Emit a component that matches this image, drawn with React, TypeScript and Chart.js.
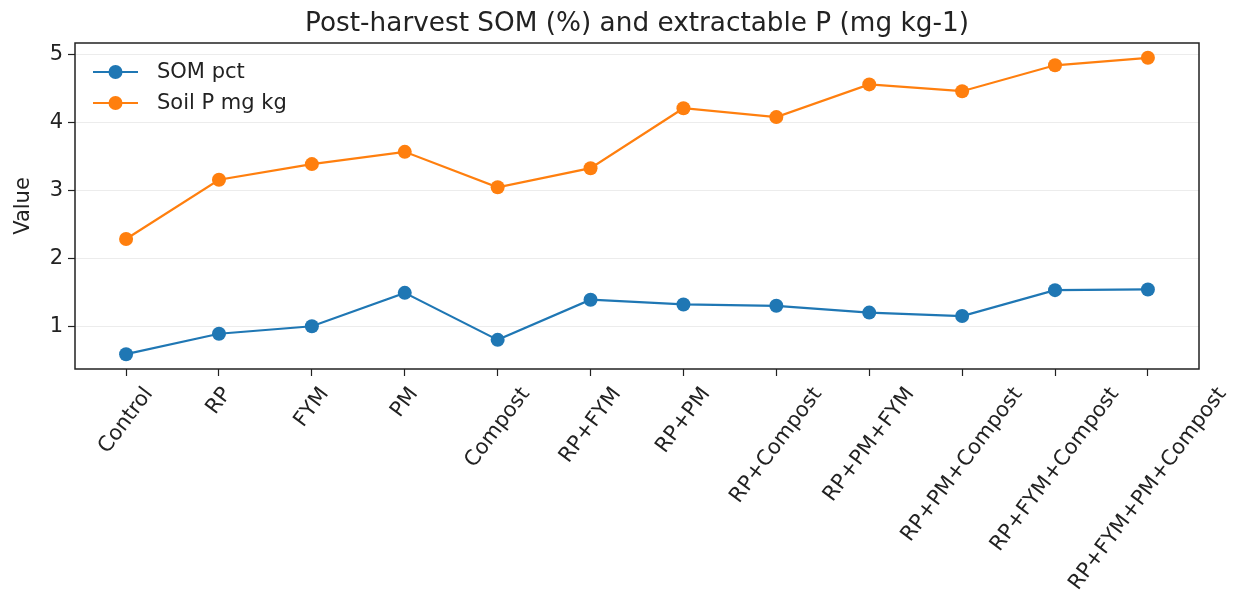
import React, { useEffect, useRef } from "react";
import { Chart, registerables } from "chart.js";

Chart.register(...registerables);

const categories = [
  "Control",
  "RP",
  "FYM",
  "PM",
  "Compost",
  "RP+FYM",
  "RP+PM",
  "RP+Compost",
  "RP+PM+FYM",
  "RP+PM+Compost",
  "RP+FYM+Compost",
  "RP+FYM+PM+Compost",
];
const somPct = [0.6, 0.9, 1.01, 1.5, 0.81, 1.4, 1.33, 1.31, 1.21, 1.16, 1.54, 1.55];
const soilP = [2.29, 3.16, 3.39, 3.57, 3.05, 3.33, 4.21, 4.08, 4.56, 4.46, 4.84, 4.95];
const seriesLabels = ["SOM pct", "Soil P mg kg"];
const seriesColors = ["#1f77b4", "#ff7f0e"];
const yTicks = [1, 2, 3, 4, 5];
const titleText = "Post-harvest SOM (%) and extractable P (mg kg-1)";
const yAxisTitle = "Value";

const FONT = "'DejaVu Sans', sans-serif";
const TICK_PX = 21;
const TITLE_PX = 26.3;
const ROT_DEG = 53;

export default function App() {
  const ref = useRef<HTMLCanvasElement>(null);

  useEffect(() => {
    const canvas = ref.current;
    if (!canvas) return;
    const all = [...somPct, ...soilP];
    const dMin = Math.min(...all);
    const dMax = Math.max(...all);
    const span = dMax - dMin;
    const yMin = dMin - 0.05 * span;
    const yMax = dMax + 0.05 * span;
    const n = categories.length;
    const xMargin = 0.05 * (n - 1);

    const decor = {
      id: "decor",
      afterDraw(chart: any) {
        const ctx = chart.ctx;
        const a = chart.chartArea;
        const xs = chart.scales.x;
        ctx.save();
        // frame
        ctx.strokeStyle = "#222";
        ctx.lineWidth = 1.5;
        ctx.strokeRect(a.left, a.top, a.right - a.left, a.bottom - a.top);
        // title
        ctx.fillStyle = "#222";
        ctx.font = `${TITLE_PX}px ${FONT}`;
        ctx.textAlign = "center";
        ctx.textBaseline = "alphabetic";
        ctx.fillText(titleText, (a.left + a.right) / 2, a.top - 12);
        // y title
        ctx.save();
        ctx.font = `${TICK_PX}px ${FONT}`;
        ctx.translate(24, (a.top + a.bottom) / 2);
        ctx.rotate(-Math.PI / 2);
        ctx.textAlign = "center";
        ctx.textBaseline = "middle";
        ctx.fillText(yAxisTitle, 0, 0);
        ctx.restore();
        // x labels, matplotlib style (rotated, bbox centered under tick)
        const th = (ROT_DEG * Math.PI) / 180;
        ctx.font = `${TICK_PX}px ${FONT}`;
        const h = TICK_PX * 1.0;
        categories.forEach((c, i) => {
          const x = xs.getPixelForValue(i);
          const L = ctx.measureText(c).width;
          const H = L * Math.sin(th) + h * Math.cos(th);
          const top = a.bottom + 7 + 8;
          ctx.save();
          ctx.translate(x, top + H / 2);
          ctx.rotate(-th);
          ctx.textAlign = "center";
          ctx.textBaseline = "middle";
          ctx.fillText(c, 0, 0);
          ctx.restore();
        });
        // legend
        const lx = a.left + 18;
        const rows = [a.top + 29, a.top + 60];
        ctx.font = `${TICK_PX}px ${FONT}`;
        ctx.textAlign = "left";
        ctx.textBaseline = "middle";
        seriesLabels.forEach((lab, i) => {
          const y = rows[i];
          ctx.strokeStyle = seriesColors[i];
          ctx.lineWidth = 2.2;
          ctx.beginPath();
          ctx.moveTo(lx, y);
          ctx.lineTo(lx + 45, y);
          ctx.stroke();
          ctx.fillStyle = seriesColors[i];
          ctx.beginPath();
          ctx.arc(lx + 22.5, y, 7, 0, Math.PI * 2);
          ctx.fill();
          ctx.fillStyle = "#222";
          ctx.fillText(lab, lx + 64, y + 1);
        });
        ctx.restore();
      },
    };

    const chart = new Chart(canvas, {
      type: "line",
      data: {
        datasets: [somPct, soilP].map((vals, k) => ({
          label: seriesLabels[k],
          data: vals.map((v, i) => ({ x: i, y: v })),
          borderColor: seriesColors[k],
          backgroundColor: seriesColors[k],
          borderWidth: 2.2,
          pointRadius: 7,
          pointBorderWidth: 0,
          pointBackgroundColor: seriesColors[k],
          tension: 0,
          fill: false,
        })),
      },
      options: {
        animation: false,
        responsive: false,
        layout: { padding: { top: 43, right: 36, left: 0, bottom: 0 } },
        plugins: {
          legend: { display: false },
          title: { display: false },
          tooltip: { enabled: false },
        },
        scales: {
          x: {
            type: "linear",
            min: -xMargin,
            max: n - 1 + xMargin,
            afterBuildTicks: (s: any) => {
              s.ticks = categories.map((_, i) => ({ value: i }));
            },
            afterFit: (s: any) => {
              s.height = 227;
            },
            ticks: { display: false },
            border: { display: false },
            grid: {
              display: true,
              drawOnChartArea: false,
              drawTicks: true,
              tickLength: 7,
              tickColor: "#222",
              tickWidth: 1.2,
            },
          },
          y: {
            type: "linear",
            min: yMin,
            max: yMax,
            afterBuildTicks: (s: any) => {
              s.ticks = yTicks.map((v) => ({ value: v }));
            },
            afterFit: (s: any) => {
              s.width = 75;
            },
            border: { display: false },
            ticks: {
              color: "#222",
              font: { family: FONT, size: TICK_PX },
              padding: 5,
              callback: (v: any) => String(v),
            },
            grid: {
              color: "#ececec",
              lineWidth: 1,
              drawTicks: true,
              tickLength: 7,
              tickColor: "#222",
              tickWidth: 1.2,
            },
          },
        },
      },
      plugins: [decor],
    } as any);
    return () => chart.destroy();
  }, []);

  return (
    <div style={{ position: "fixed", left: 0, top: 0, width: 1235, height: 596, background: "#fff" }}>
      <canvas ref={ref} width={1235} height={596} style={{ width: 1235, height: 596 }} />
    </div>
  );
}
